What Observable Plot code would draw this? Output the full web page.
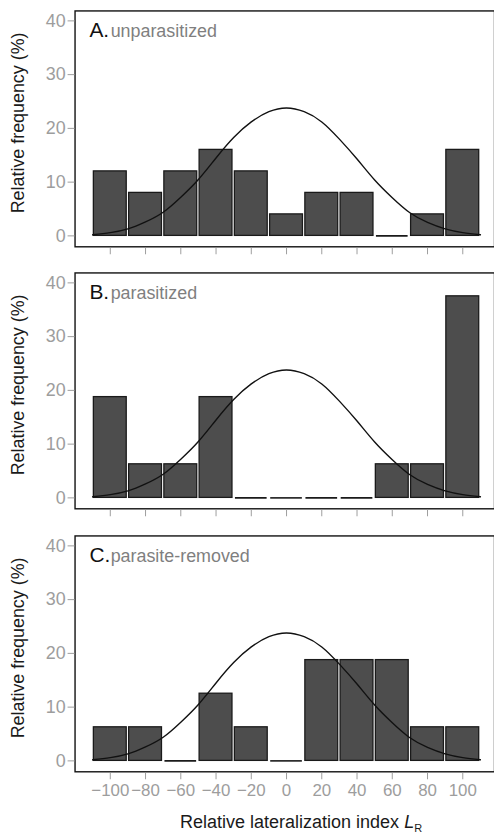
<!DOCTYPE html>
<html>
<head>
<meta charset="utf-8">
<script src="https://cdn.jsdelivr.net/npm/d3@7"></script>
<script src="https://cdn.jsdelivr.net/npm/@observablehq/plot@0.6"></script>
<style>
html, body { margin: 0; padding: 0; background: #fff; overflow: hidden; }
#chart { position: relative; width: 494px; height: 835px; overflow: hidden; font-family: "Liberation Sans", Arial, Helvetica, sans-serif; }
#chart svg { display: block; }
#xtitle { position: absolute; left: 180px; top: 813px; font-size: 18px; line-height: 18px; color: #1a1a1a; white-space: nowrap; }
#xtitle sub { font-size: 11px; vertical-align: -4px; line-height: 0; }
</style>
</head>
<body>
<div id="chart"></div>
<script>
// ---- data ----
const bins = [-100, -80, -60, -40, -20, 0, 20, 40, 60, 80, 100];
const binWidth = 20;
const unparasitized   = [12, 8, 12, 16, 12, 4, 8, 8, 0, 4, 16];
const parasitized     = [18.75, 6.25, 6.25, 18.75, 0, 0, 0, 0, 6.25, 6.25, 37.5];
const parasiteRemoved = [6.25, 6.25, 0, 12.5, 6.25, 0, 18.75, 18.75, 18.75, 6.25, 6.25];
// fitted curve
const curveX = [-110, -100, -90, -80, -70, -60, -50, -40, -30, -20, -10, 0, 10, 20, 30, 40, 50, 60, 70, 80, 90, 100, 110];
const curveY = [0.2, 0.6, 1.3, 2.6, 4.4, 7.2, 10.5, 14.5, 18.3, 21.2, 23.1, 23.8, 23.1, 21.2, 18.0, 14.3, 10.4, 7.1, 4.3, 2.5, 1.3, 0.6, 0.2];
const yTicks = [0, 10, 20, 30, 40];
const panelLetters = ["A.", "B.", "C."];
const panelNames = ["unparasitized", "parasitized", "parasite-removed"];
const panelValues = [unparasitized, parasitized, parasiteRemoved];
const yTitle = "Relative frequency (%)";

const font = '"Liberation Sans", Arial, Helvetica, sans-serif';
const gray = "#9d9d9d";
const minus = d => d < 0 ? "\u2212" + Math.abs(d) : String(d);
const curve = curveX.map((x, j) => ({x, y: curveY[j]}));

const chart = document.getElementById("chart");

panelValues.forEach((values, i) => {
  const last = i === panelValues.length - 1;
  const data = bins.map((x, j) => ({x, v: values[j]}));
  const plot = Plot.plot({
    width: 497,
    height: last ? 307 : 264,
    marginLeft: 75,
    marginRight: 0,
    marginTop: 10.5,
    marginBottom: last ? 59.2 : 16.2,
    x: {domain: [-120, 118]},
    y: {domain: [-2.03, 41.85]},
    style: {fontFamily: font, background: "white", color: "#1a1a1a"},
    marks: [
      Plot.rectY(data.filter(d => d.v > 0), {
        x1: d => d.x - binWidth / 2, x2: d => d.x + binWidth / 2, y1: 0, y2: "v",
        fill: "#4d4d4d", stroke: "#1a1a1a", strokeWidth: 1.3, insetLeft: 1.2, insetRight: 1.2
      }),
      Plot.ruleY(data.filter(d => d.v === 0), {
        x1: d => d.x - binWidth / 2, x2: d => d.x + binWidth / 2, y: 0,
        stroke: "#1a1a1a", strokeWidth: 1.6, insetLeft: 1.8, insetRight: 1.8
      }),
      Plot.line(curve, {x: "x", y: "y", curve: "natural", stroke: "#111", strokeWidth: 1.4}),
      Plot.frame({stroke: "#111", strokeWidth: 1.4}),
      Plot.axisY({ticks: yTicks, tickSize: 7, tickPadding: 2.5, stroke: gray, fill: gray, fontSize: 18, label: null}),
      Plot.axisX({ticks: bins, tickSize: 6.5, tickPadding: 4, stroke: gray, fill: gray, fontSize: 17,
                  tickFormat: last ? minus : () => "", label: null, dy: 1.5}),
      Plot.text([yTitle], {frameAnchor: "left", rotate: -90, dx: -57, dy: -6, fontSize: 18, fill: "#1a1a1a", textAnchor: "middle"}),
      Plot.text([panelLetters[i]], {frameAnchor: "top-left", dx: 14.5, dy: 11.3, fontSize: 21, fill: "#111", textAnchor: "start", lineAnchor: "top"}),
      Plot.text([panelNames[i]], {frameAnchor: "top-left", dx: 35.8, dy: 13.4, fontSize: 18, fill: "#7f7f7f", textAnchor: "start", lineAnchor: "top"})
    ]
  });
  chart.appendChild(plot);
});

const xt = document.createElement("div");
xt.id = "xtitle";
xt.innerHTML = "Relative lateralization index <i>L</i><sub>R</sub>";
chart.appendChild(xt);
</script>
</body>
</html>
